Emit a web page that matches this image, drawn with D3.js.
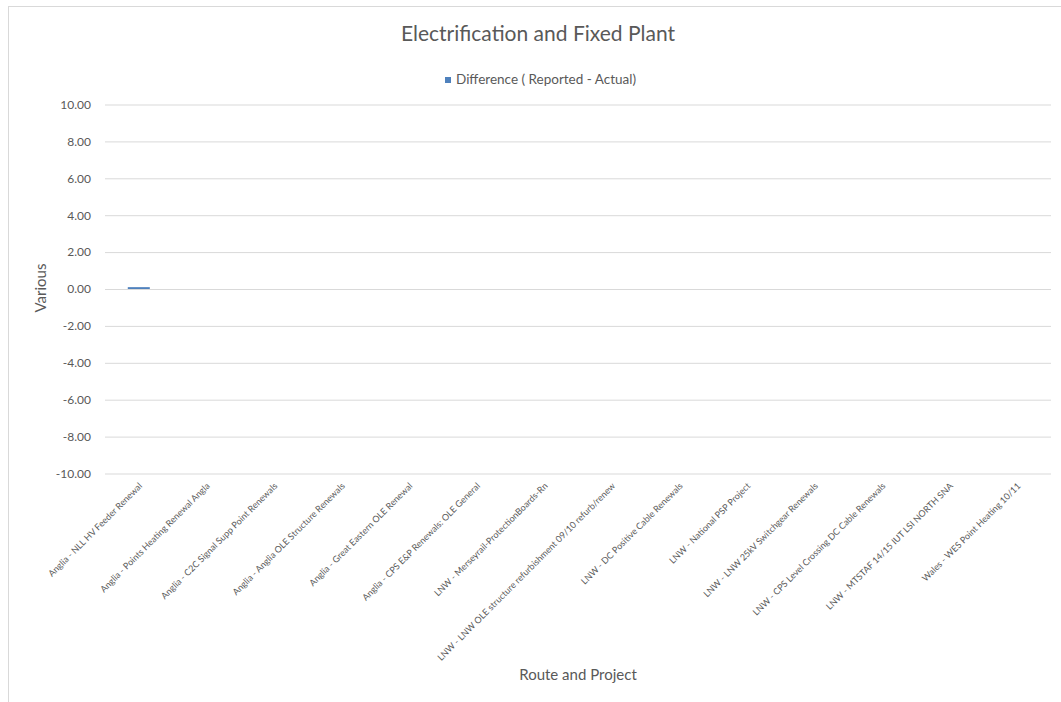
<!DOCTYPE html>
<html>
<head>
<meta charset="utf-8">
<script src="https://cdn.jsdelivr.net/npm/d3@7"></script>
<style>
  html, body { margin: 0; padding: 0; background: #fff; }
  svg { display: block; font-family: Lato, "Open Sans", sans-serif; }
</style>
</head>
<body>
<svg id="chart" width="1061" height="702"></svg>
<script>
// Route / project categories along the x axis
const categories = [
  "Anglia - NLL HV Feeder Renewal",
  "Anglia - Points Heating Renewal Angla",
  "Anglia - C2C Signal Supp Point Renewals",
  "Anglia - Anglia OLE Structure Renewals",
  "Anglia - Great Eastern OLE Renewal",
  "Anglia - CPS E&P Renewals: OLE General",
  "LNW - Merseyrail-ProtectionBoards-Rn",
  "LNW - LNW OLE structure refurbishment 09/10 refurb/renew",
  "LNW - DC Positive Cable Renewals",
  "LNW - National PSP Project",
  "LNW - LNW 25kV Switchgear Renewals",
  "LNW - CPS Level Crossing DC Cable Renewals",
  "LNW - MTSTAF 14/15 IUT LSI NORTH SNA",
  "Wales - WES Point Heating 10/11"
];
// Difference (Reported - Actual) per project
const differences = [0.1, 0, 0, 0, 0, 0, 0, 0, 0, 0, 0, 0, 0, 0];
const seriesName = "Difference ( Reported - Actual)";
const yTicks = [10, 8, 6, 4, 2, 0, -2, -4, -6, -8, -10];

const svg = d3.select("#chart");
const textColor = "#595959";
const gridColor = "#d9d9d9";
const barColor = "#4f81bd";

// outer chart border
svg.append("rect")
  .attr("x", 8.5).attr("y", 6.5)
  .attr("width", 1100).attr("height", 760)
  .attr("fill", "none").attr("stroke", gridColor);

const plot = { left: 105, right: 1051, top: 104.5, bottom: 473.5 };

const x = d3.scaleBand()
  .domain(categories)
  .range([plot.left, plot.right])
  .paddingInner(0.674)
  .paddingOuter(0.337);

const y = d3.scaleLinear()
  .domain([-10, 10])
  .range([plot.bottom, plot.top]);

const locale = d3.formatLocale({ decimal: ".", thousands: ",", grouping: [3], currency: ["", ""], minus: "-" });
const fmt = locale.format(".2f");

// y axis with gridlines
const yAxis = svg.append("g")
  .attr("transform", `translate(${plot.left},0)`)
  .call(d3.axisLeft(y).tickValues(yTicks).tickFormat(fmt)
    .tickSize(-(plot.right - plot.left)).tickPadding(14));
yAxis.select(".domain").remove();
yAxis.selectAll(".tick line").attr("stroke", gridColor).attr("stroke-width", 1);
yAxis.selectAll(".tick text")
  .attr("fill", textColor)
  .style("font-size", "12px")
  .style("font-family", "Lato, 'Open Sans', sans-serif");

// bars
svg.append("g").selectAll("rect")
  .data(categories.map((c, i) => ({ c, v: differences[i] })))
  .join("rect")
  .attr("x", d => x(d.c))
  .attr("width", x.bandwidth())
  .attr("y", d => y(Math.max(0, d.v)))
  .attr("height", d => Math.abs(y(d.v) - y(0)))
  .attr("fill", barColor);

// rotated category labels
const xAxis = svg.append("g")
  .attr("transform", `translate(0,${plot.bottom})`)
  .call(d3.axisBottom(x).tickSize(0).tickPadding(0));
xAxis.select(".domain").remove();
xAxis.selectAll(".tick text")
  .attr("fill", textColor)
  .style("font-size", "9px")
  .style("font-family", "Lato, 'Open Sans', sans-serif")
  .attr("text-anchor", "end")
  .attr("dy", null)
  .attr("y", 0)
  .attr("transform", "translate(4,13) rotate(-45)");

// title
svg.append("text")
  .attr("x", 538).attr("y", 41)
  .attr("text-anchor", "middle")
  .attr("fill", textColor)
  .style("font-size", "21px")
  .text("Electrification and Fixed Plant");

// legend
const legend = svg.append("g");
legend.append("rect")
  .attr("x", 445).attr("y", 77).attr("width", 6).attr("height", 6)
  .attr("fill", barColor);
legend.append("text")
  .attr("x", 456).attr("y", 84)
  .attr("fill", textColor)
  .style("font-size", "13.5px")
  .text(seriesName);

// axis titles
svg.append("text")
  .attr("transform", "translate(46,288) rotate(-90)")
  .attr("text-anchor", "middle")
  .attr("fill", textColor)
  .style("font-size", "15px")
  .text("Various");

svg.append("text")
  .attr("x", 578).attr("y", 680)
  .attr("text-anchor", "middle")
  .attr("fill", textColor)
  .style("font-size", "15px")
  .text("Route and Project");
</script>
</body>
</html>
